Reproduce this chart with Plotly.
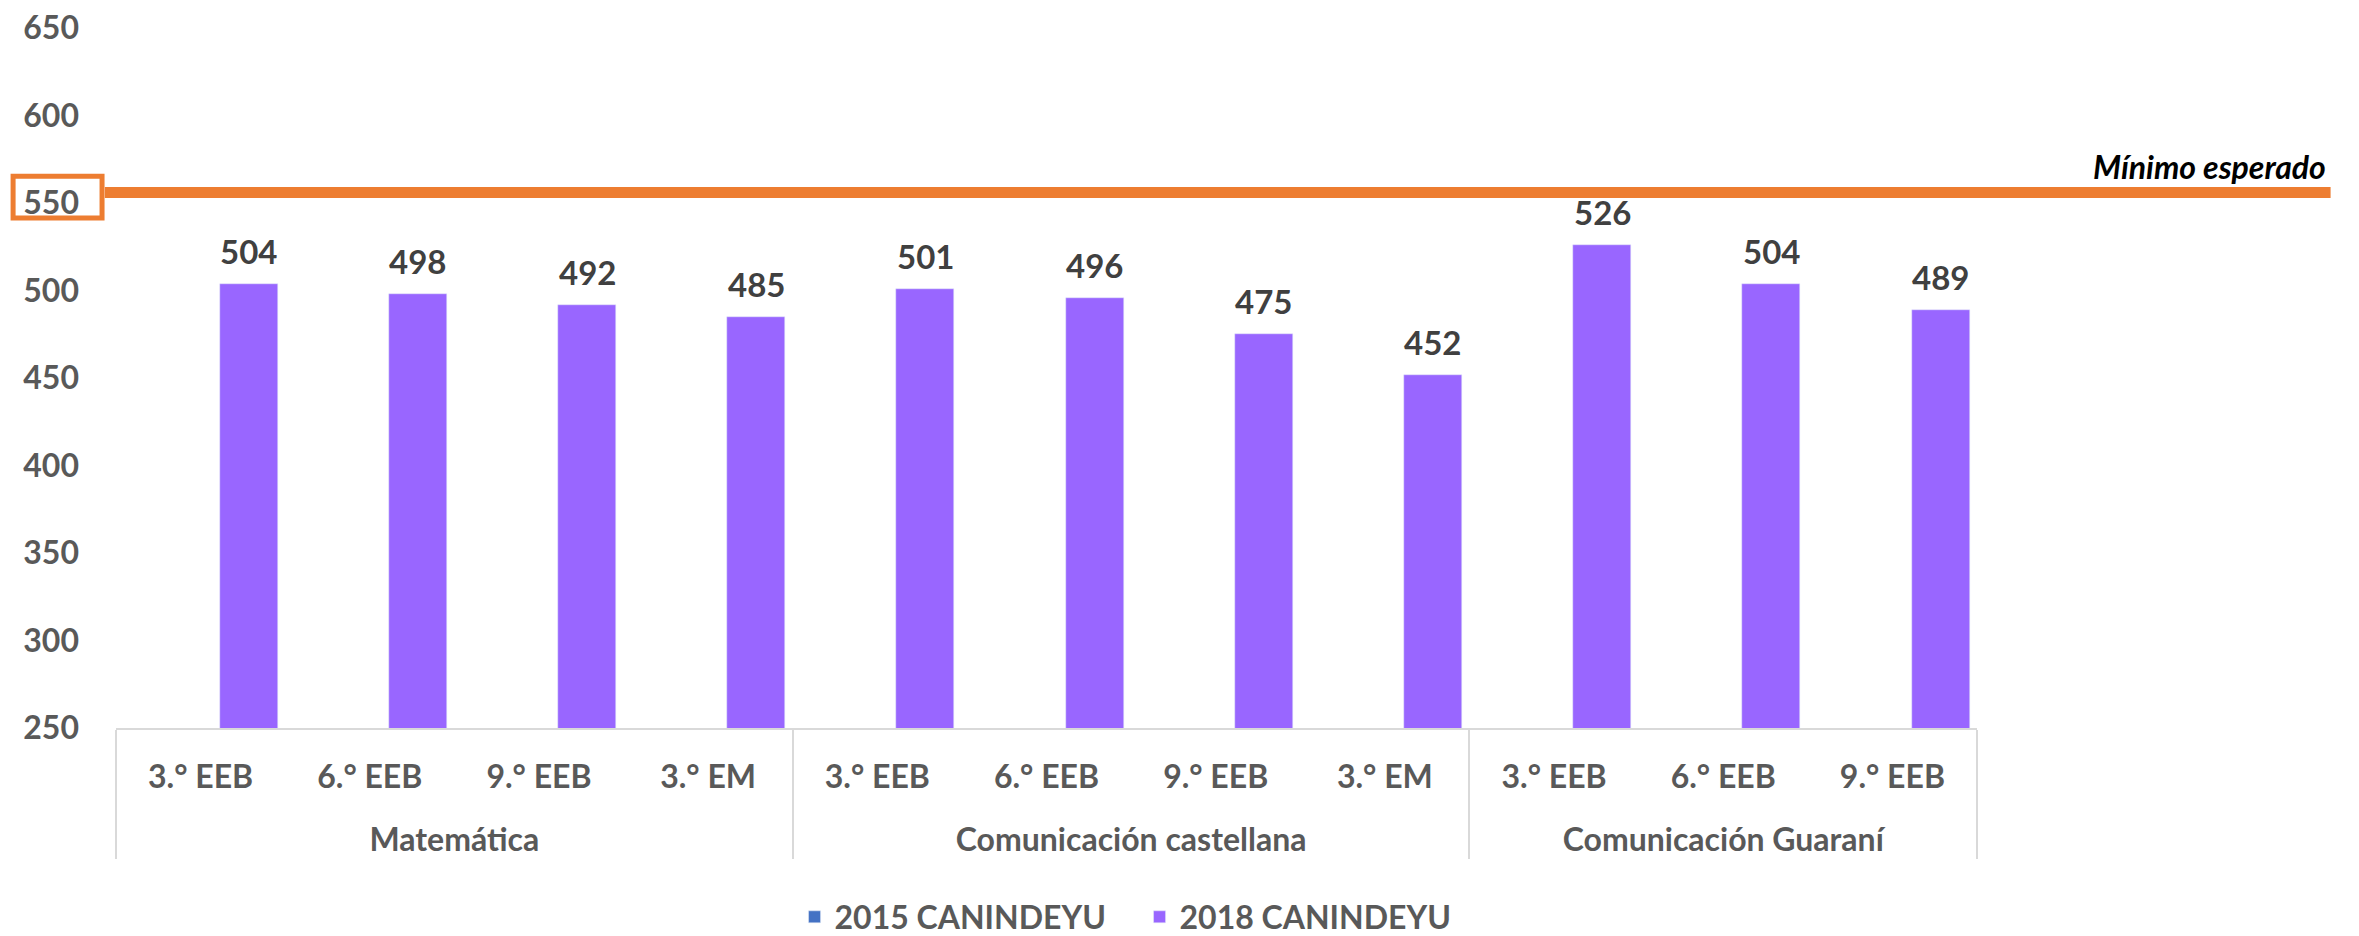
import plotly.graph_objects as go

subjects = ["Matemática"] * 4 + ["Comunicación castellana"] * 4 + ["Comunicación Guaraní"] * 3
grades = ["3.° EEB", "6.° EEB", "9.° EEB", "3.° EM",
          "3.° EEB", "6.° EEB", "9.° EEB", "3.° EM",
          "3.° EEB", "6.° EEB", "9.° EEB"]
scores_2015 = [None] * 11
scores_2018 = [504, 498, 492, 485, 501, 496, 475, 452, 526, 504, 489]
minimo_esperado = 556
minimo_label = "Mínimo esperado"

FONT = "Lato"
GREY = "#595959"
PURPLE = "#9966FF"
ORANGE = "#ED7D31"

bar_w = 0.343
bar_off = 0.113   # 2018 bar sits right of the category centre (empty 2015 slot on the left)

# leading blank line pushes the subject row further below the grade row
x_cats = [["<br>" + s for s in subjects], grades]

fig = go.Figure()
fig.add_trace(go.Bar(
    x=x_cats, y=scores_2015, name="2015 CANINDEYU",
    marker_color="#4472C4", width=bar_w, offset=-bar_off - bar_w,
))
fig.add_trace(go.Bar(
    x=x_cats, y=scores_2018, name="2018 CANINDEYU",
    marker_color=PURPLE, width=bar_w, offset=bar_off,
))

n = len(grades)
for i, v in enumerate(scores_2018):
    fig.add_annotation(
        xref="x domain", yref="y",
        x=(i + 0.5 + bar_off + bar_w / 2) / n, y=v,
        text=f"<b>{v}</b>", showarrow=False,
        xanchor="center", yanchor="bottom", yshift=11,
        font=dict(family=FONT, size=33, color="#404040"),
    )

# threshold line + label
fig.add_shape(type="line", xref="paper", yref="y",
              x0=-0.006, x1=1.19, y0=minimo_esperado, y1=minimo_esperado,
              line=dict(color=ORANGE, width=11))
fig.add_shape(type="rect", xref="paper", yref="y",
              x0=-0.0553, x1=-0.0075, y0=541.5, y1=565.3,
              line=dict(color=ORANGE, width=5))
fig.add_annotation(
    xref="paper", yref="y", x=1.1886, y=minimo_esperado, yshift=26,
    xanchor="right", yanchor="middle", showarrow=False,
    text=f"<b><i>{minimo_label}</i></b>",
    font=dict(family=FONT, size=32, color="#000000"),
)

# page body adds an 8px offset, margins compensate
fig.update_layout(
    width=2359, height=936,
    margin=dict(l=108, r=390, t=20, b=216, autoexpand=False),
    plot_bgcolor="white", paper_bgcolor="white",
    font=dict(family=FONT, size=32, color=GREY),
    showlegend=True,
    legend=dict(orientation="h", x=0.55, xanchor="center", y=-0.27, yanchor="middle",
                entrywidth=300,
                font=dict(family=FONT, size=32, color=GREY, weight="bold")),
    bargap=0,
)
fig.update_xaxes(
    type="multicategory", range=[-0.5, n - 0.5], automargin=False,
    showline=True, linecolor="#D9D9D9", linewidth=2,
    showgrid=False, showdividers=True, dividercolor="#D9D9D9", dividerwidth=2,
    ticklabelstandoff=20,
    tickfont=dict(family=FONT, size=32, color=GREY, weight="bold"),
)
fig.update_yaxes(
    range=[250, 650], dtick=50, showgrid=False, zeroline=False, showline=False,
    automargin=False, ticklabelstandoff=36, ticklabeloverflow="allow",
    tickfont=dict(family=FONT, size=32, color=GREY, weight="bold"),
)

fig.write_html("out.html")
